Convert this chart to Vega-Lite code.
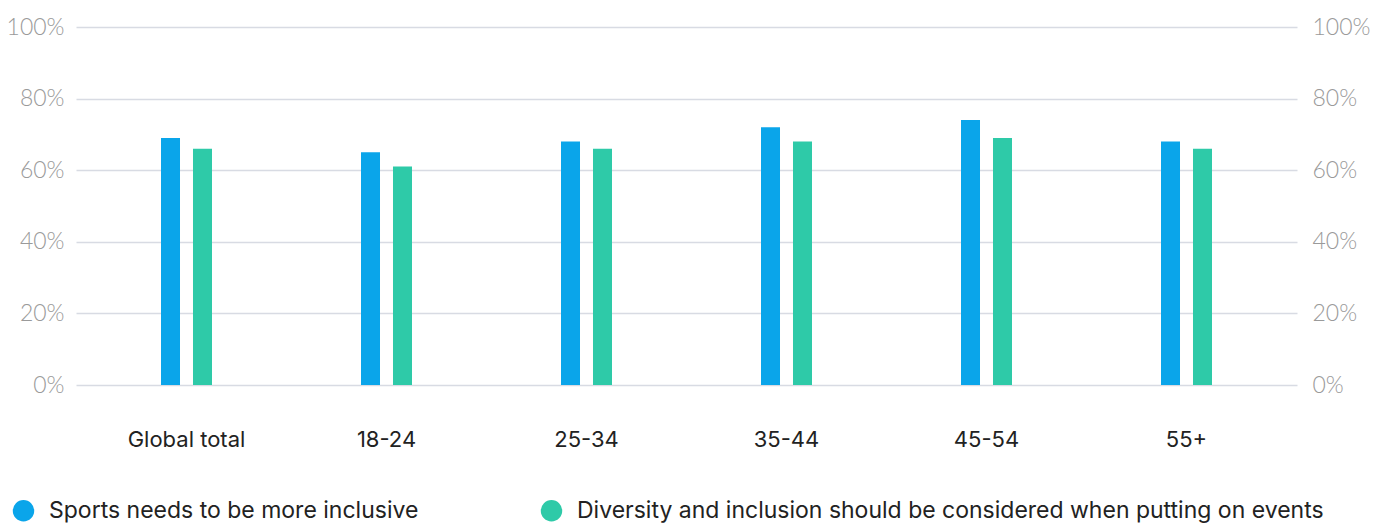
{
  "$schema": "https://vega.github.io/schema/vega-lite/v6.json",
  "width": 1221,
  "height": 358,
  "autosize": {"type": "none"},
  "padding": {"left": 76, "top": 27, "right": 79, "bottom": 138},
  "background": "white",
  "config": {
    "view": {"stroke": null},
    "font": "Inter"
  },
  "data": {
    "values": [
      {"group": "Global total", "series": "Sports needs to be more inclusive", "value": 69},
      {"group": "Global total", "series": "Diversity and inclusion should be considered when putting on events", "value": 66},
      {"group": "18-24", "series": "Sports needs to be more inclusive", "value": 65},
      {"group": "18-24", "series": "Diversity and inclusion should be considered when putting on events", "value": 61},
      {"group": "25-34", "series": "Sports needs to be more inclusive", "value": 68},
      {"group": "25-34", "series": "Diversity and inclusion should be considered when putting on events", "value": 66},
      {"group": "35-44", "series": "Sports needs to be more inclusive", "value": 72},
      {"group": "35-44", "series": "Diversity and inclusion should be considered when putting on events", "value": 68},
      {"group": "45-54", "series": "Sports needs to be more inclusive", "value": 74},
      {"group": "45-54", "series": "Diversity and inclusion should be considered when putting on events", "value": 69},
      {"group": "55+", "series": "Sports needs to be more inclusive", "value": 68},
      {"group": "55+", "series": "Diversity and inclusion should be considered when putting on events", "value": 66}
    ]
  },
  "encoding": {
    "x": {
      "field": "group", "type": "nominal", "sort": null,
      "scale": {"paddingInner": 0.745, "paddingOuter": 0.425},
      "axis": {"title": null, "labelAngle": 0, "domain": false, "ticks": false, "labelPadding": 44, "labelFontSize": 22, "labelColor": "#222222", "labelFont": "Inter", "labelFontWeight": 400}
    },
    "xOffset": {
      "field": "series", "type": "nominal", "sort": null,
      "scale": {"paddingInner": 0.406, "paddingOuter": 0}
    },
    "y": {
      "field": "value", "type": "quantitative",
      "scale": {"domain": [0, 100], "nice": false}
    },
    "color": {
      "field": "series", "type": "nominal", "sort": null,
      "scale": {"range": ["#0aa5ea", "#2ecaa8"]},
      "legend": {
        "title": null, "orient": "none", "legendX": -64, "legendY": 472, "direction": "horizontal", "columns": 2,
        "symbolType": "circle", "symbolSize": 460, "symbolStrokeWidth": 0, "symbolOpacity": 1,
        "labelFontSize": 23, "labelColor": "#222222", "labelFont": "Inter", "labelFontWeight": 400, "labelLimit": 1000,
        "columnPadding": 121, "labelOffset": 14
      }
    }
  },
  "layer": [
    {
      "mark": {"type": "bar"},
      "encoding": {
        "y": {
          "field": "value", "type": "quantitative",
          "scale": {"domain": [0, 100], "nice": false},
          "axis": {"title": null, "orient": "left", "values": [0, 20, 40, 60, 80, 100], "labelExpr": "datum.value + '%'", "domain": false, "ticks": false, "labelPadding": 12, "labelFontSize": 23, "labelFont": "Lato", "labelColor": "#9a9a9a", "labelFontWeight": 300, "gridColor": "#d8dbe3", "gridWidth": 1.3, "grid": true}
        }
      }
    },
    {
      "mark": {"type": "bar", "opacity": 0},
      "encoding": {
        "y": {
          "field": "value", "type": "quantitative",
          "scale": {"domain": [0, 100], "nice": false},
          "axis": {"title": null, "orient": "right", "values": [0, 20, 40, 60, 80, 100], "labelExpr": "datum.value + '%'", "domain": false, "ticks": false, "labelPadding": 15, "labelFontSize": 23, "labelFont": "Lato", "labelColor": "#9a9a9a", "labelFontWeight": 300, "grid": false}
        }
      }
    }
  ],
  "resolve": {"axis": {"y": "independent"}}
}
